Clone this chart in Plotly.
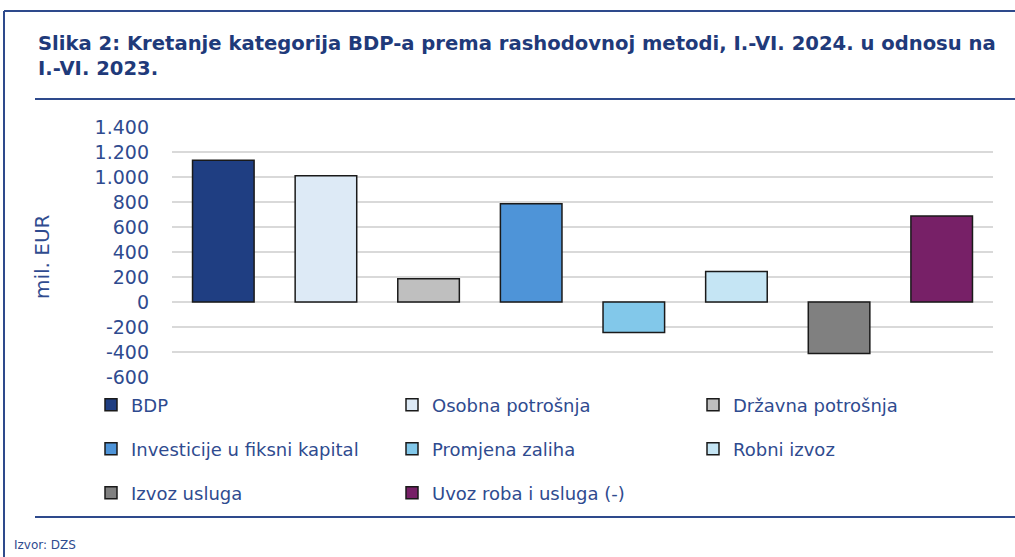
import plotly.graph_objects as go

categories = ["BDP", "Osobna potrošnja", "Državna potrošnja", "Investicije u fiksni kapital",
              "Promjena zaliha", "Robni izvoz", "Izvoz usluga", "Uvoz roba i usluga (-)"]
values = [1135, 1010, 187, 787, -243, 245, -411, 688]
colors = ["#1F3E82", "#DDEAF6", "#BFBFBF", "#4E94D8", "#82C8EA", "#C5E5F4", "#808080", "#772067"]
legend_rows = ["legend", "legend", "legend", "legend2", "legend2", "legend2", "legend3", "legend3"]
tick_vals = [-600, -400, -200, 0, 200, 400, 600, 800, 1000, 1200, 1400]
tick_text = ["-600", "-400", "-200", "0", "200", "400", "600", "800", "1.000", "1.200", "1.400"]

W, H = 1015, 557
L, R, T, B = 172, 22, 127, 180
pw, ph = W - L - R, H - T - B

def px(x):
    return (x - L) / pw

def py(y):
    return (H - B - y) / ph

TXT = "#2F4B8F"
FONT = "DejaVu Sans"

fig = go.Figure()
for c, v, col, lg in zip(categories, values, colors, legend_rows):
    fig.add_trace(go.Bar(x=[c], y=[v], name=c, marker=dict(color=col, line=dict(color="#1a1a1a", width=1.5)),
                         width=0.6, legend=lg))

leg_common = dict(orientation="h", entrywidth=256, entrywidthmode="pixels", bgcolor="rgba(0,0,0,0)",
                  font=dict(family=FONT, size=18, color=TXT), x=px(91), xanchor="left", yanchor="middle",
                  itemwidth=30, traceorder="normal")
fig.update_layout(
    width=W, height=H, margin=dict(l=L, r=R, t=T, b=B, autoexpand=False),
    paper_bgcolor="white", plot_bgcolor="white",
    barmode="overlay", showlegend=True,
    legend=dict(y=py(405), **leg_common),
    legend2=dict(y=py(449), **leg_common),
    legend3=dict(y=py(493), **leg_common),
    xaxis=dict(type="category", categoryorder="array", categoryarray=categories,
               showticklabels=False, showgrid=False, zeroline=False, showline=False, ticks=""),
    yaxis=dict(range=[-600, 1400], tickvals=tick_vals, ticktext=tick_text, showgrid=True,
               gridcolor="#D9D9D9", gridwidth=2, zeroline=False, showline=False, ticks="",
               tickfont=dict(family=FONT, size=19, color=TXT), ticklabelstandoff=22, automargin=False),
    font=dict(family=FONT),
)

# y axis title
fig.add_annotation(xref="paper", yref="paper", x=px(42), y=py(257), xanchor="center", yanchor="middle",
                   textangle=-90, showarrow=False, text="mil. EUR",
                   font=dict(family=FONT, size=20, color=TXT))

# frame lines
fig.add_shape(type="line", xref="paper", yref="paper", x0=px(4), x1=px(1015), y0=py(11), y1=py(11),
              line=dict(color="#2E4A8C", width=2))
fig.add_shape(type="line", xref="paper", yref="paper", x0=px(4), x1=px(4), y0=py(11), y1=py(557),
              line=dict(color="#2E4A8C", width=2))
fig.add_shape(type="line", xref="paper", yref="paper", x0=px(35), x1=px(1015), y0=py(99), y1=py(99),
              line=dict(color="#2E4A8C", width=2))
fig.add_shape(type="line", xref="paper", yref="paper", x0=px(35), x1=px(1015), y0=py(517), y1=py(517),
              line=dict(color="#2E4A8C", width=2))

fig.add_annotation(xref="paper", yref="paper", x=px(36), y=py(30), xanchor="left", yanchor="top",
                   align="left", showarrow=False,
                   text="<b>Slika 2: Kretanje kategorija BDP-a prema rashodovnoj metodi, I.-VI. 2024. u odnosu na<br>I.-VI. 2023.</b>",
                   font=dict(family=FONT, size=19.6, color="#1F3A7A"))
fig.add_annotation(xref="paper", yref="paper", x=px(12), y=py(545), xanchor="left", yanchor="middle",
                   showarrow=False, text="Izvor: DZS", font=dict(family=FONT, size=12, color=TXT))

fig.write_html("out.html", config={"displayModeBar": False},
               post_script="document.body.style.margin='0';document.body.style.padding='0';")
